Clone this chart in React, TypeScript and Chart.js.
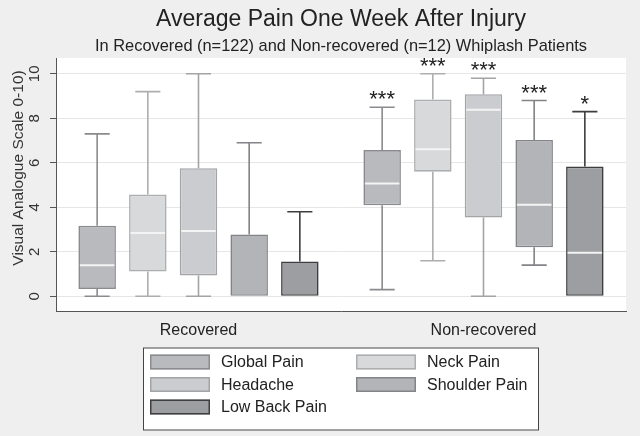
import React, { useEffect, useRef } from "react";
import { Chart, registerables } from "chart.js";

Chart.register(...registerables);

const categories = ["Recovered", "Non-recovered"];
const seriesNames = ["Global Pain", "Neck Pain", "Headache", "Shoulder Pain", "Low Back Pain"];
// each row: one series, [Recovered, Non-recovered]
const whiskerLow = [[0, 0.3], [0, 1.6], [0, 0], [0, 1.4], [0, 0]];
const quartile1 = [[0.33, 4.09], [1.11, 5.6], [0.94, 3.54], [0, 2.2], [0, 0]];
const medians = [[1.4, 5.07], [2.85, 6.61], [2.93, 8.38], [0, 4.11], [0, 1.96]];
const quartile3 = [[3.17, 6.57], [4.57, 8.84], [5.76, 9.08], [2.78, 7.03], [1.57, 5.83]];
const whiskerHigh = [[7.3, 8.5], [9.2, 10], [10, 9.8], [6.9, 8.8], [3.8, 8.3]];
const significance = [["", "***"], ["", "***"], ["", "***"], ["", "***"], ["", "*"]];
const yTicks = [0, 2, 4, 6, 8, 10];
const yTickLabels = ["0", "2", "4", "6", "8", "10"];
const titleText = "Average Pain One Week After Injury";
const subtitleText = "In Recovered (n=122) and Non-recovered (n=12) Whiplash Patients";
const yAxisTitle = "Visual Analogue Scale 0-10)";

const fills = ["#b9babd", "#d8d9db", "#cbcccf", "#b3b4b7", "#9d9ea1"];
const borders = ["#8a8b8e", "#adaeb0", "#a3a4a6", "#838487", "#3e3e40"];

const FONT = "'Liberation Sans', Arial, Helvetica, sans-serif";

const boxPlugin = {
  id: "boxParts",
  beforeDraw(chart: any) {
    const { ctx, chartArea: a } = chart;
    ctx.save();
    ctx.fillStyle = "#efefef";
    ctx.fillRect(0, 0, chart.width, chart.height);
    ctx.fillStyle = "#ffffff";
    ctx.fillRect(a.left, a.top, a.right - a.left, a.bottom - a.top);
    ctx.restore();
  },
  afterDatasetsDraw(chart: any) {
    const { ctx } = chart;
    const yS = chart.scales.y;
    const px = (v: number) => yS.getPixelForValue(v);
    ctx.save();
    chart.data.datasets.forEach((ds: any, i: number) => {
      const meta = chart.getDatasetMeta(i);
      meta.data.forEach((el: any, j: number) => {
        const { x, width } = el.getProps(["x", "width"], true);
        const cap = width * 0.67;
        const lo = whiskerLow[i][j], q1 = quartile1[i][j], md = medians[i][j];
        const q3 = quartile3[i][j], hi = whiskerHigh[i][j];
        ctx.strokeStyle = borders[i];
        ctx.lineWidth = 1.6;
        ctx.lineCap = "butt";
        if (hi > q3) {
          ctx.beginPath();
          ctx.moveTo(x, px(q3));
          ctx.lineTo(x, px(hi));
          ctx.moveTo(x - cap / 2, px(hi));
          ctx.lineTo(x + cap / 2, px(hi));
          ctx.stroke();
        }
        if (lo < q1) {
          ctx.beginPath();
          ctx.moveTo(x, px(q1));
          ctx.lineTo(x, px(lo));
          ctx.moveTo(x - cap / 2, px(lo));
          ctx.lineTo(x + cap / 2, px(lo));
          ctx.stroke();
        }
        if (md > q1 && md < q3) {
          ctx.strokeStyle = "#f4f4f4";
          ctx.lineWidth = 2;
          ctx.beginPath();
          ctx.moveTo(x - width / 2 + 1.5, px(md));
          ctx.lineTo(x + width / 2 - 1.5, px(md));
          ctx.stroke();
        }
        const star = significance[i][j];
        if (star) {
          ctx.fillStyle = "#222";
          ctx.font = `22px ${FONT}`;
          ctx.textAlign = "center";
          ctx.textBaseline = "alphabetic";
          ctx.fillText(star, x, px(hi) - 1);
        }
      });
    });
    ctx.restore();
  },
  afterDraw(chart: any) {
    const { ctx, chartArea: a } = chart;
    const yS = chart.scales.y;
    ctx.save();
    // titles, centred over the plot region
    const cx = (a.left + a.right) / 2;
    ctx.fillStyle = "#222";
    ctx.textAlign = "center";
    ctx.textBaseline = "middle";
    ctx.font = `23px ${FONT}`;
    ctx.fillText(titleText, cx, 20);
    ctx.font = `16.4px ${FONT}`;
    ctx.fillText(subtitleText, cx, 46);

    // rotated y tick labels
    ctx.fillStyle = "#333";
    ctx.font = `15px ${FONT}`;
    yTicks.forEach((v, k) => {
      ctx.save();
      ctx.translate(35, yS.getPixelForValue(v));
      ctx.rotate(-Math.PI / 2);
      ctx.fillText(yTickLabels[k], 0, 0);
      ctx.restore();
    });
    // y title
    ctx.save();
    ctx.font = `15.5px ${FONT}`;
    ctx.translate(19, 168);
    ctx.rotate(-Math.PI / 2);
    ctx.fillText(yAxisTitle, 0, 0);
    ctx.restore();

    // legend box
    const L = 143, T = 347.5, R = 539, B = 430.5;
    ctx.fillStyle = "#ffffff";
    ctx.fillRect(L, T, R - L, B - T);
    ctx.strokeStyle = "#444";
    ctx.lineWidth = 1;
    ctx.strokeRect(L + 0.5, T + 0.5, R - L - 1, B - T - 1);
    const cols = [150, 356];
    const rows = [362, 384.5, 407];
    ctx.font = `16px ${FONT}`;
    ctx.textAlign = "left";
    ctx.textBaseline = "middle";
    chart.data.datasets.forEach((ds: any, i: number) => {
      const sx = cols[i % 2];
      const sy = rows[Math.floor(i / 2)];
      ctx.fillStyle = ds.backgroundColor;
      ctx.fillRect(sx, sy - 7.5, 60, 15);
      ctx.strokeStyle = ds.borderColor;
      ctx.lineWidth = 1.5;
      ctx.strokeRect(sx + 0.75, sy - 7.5 + 0.75, 58.5, 13.5);
      ctx.fillStyle = "#222";
      ctx.fillText(ds.label, sx + 71, sy + 1);
    });
    ctx.restore();
  },
};

export default function App() {
  const ref = useRef<HTMLCanvasElement>(null);
  useEffect(() => {
    if (!ref.current) return;
    const chart = new Chart(ref.current, {
      type: "bar",
      data: {
        labels: categories,
        datasets: seriesNames.map((name, i) => ({
          label: name,
          data: categories.map((_, j) => [quartile1[i][j], quartile3[i][j]]),
          backgroundColor: fills[i],
          borderColor: borders[i],
          borderWidth: 1.6,
          borderSkipped: false,
          categoryPercentage: 0.889,
          barPercentage: 0.74,
        })),
      } as any,
      options: {
        animation: false,
        responsive: true,
        maintainAspectRatio: false,
        layout: { padding: { left: 0, right: 14, top: 58, bottom: 85 } },
        plugins: {
          legend: { display: false },
          tooltip: { enabled: false },
          title: { display: false },
          subtitle: { display: false },
        },
        scales: {
          x: {
            grid: { display: false, drawTicks: false },
            border: { display: true, color: "#555", width: 1 },
            ticks: { color: "#222", font: { family: FONT, size: 16 }, padding: 10.4 },
          },
          y: {
            min: -0.66,
            max: 10.71,
            afterBuildTicks: (s: any) => {
              s.ticks = yTicks.map((v) => ({ value: v }));
            },
            afterFit: (s: any) => {
              s.width = 56;
            },
            ticks: { display: false },
            grid: { color: "#e6e6e6", lineWidth: 1, drawTicks: true, tickLength: 6, tickColor: "#555" },
            border: { display: true, color: "#555", width: 1 },
          },
        },
      } as any,
      plugins: [boxPlugin],
    });
    return () => chart.destroy();
  }, []);
  return (
    <div style={{ position: "fixed", left: 0, top: 0, width: 640, height: 436 }}>
      <canvas ref={ref} />
    </div>
  );
}
